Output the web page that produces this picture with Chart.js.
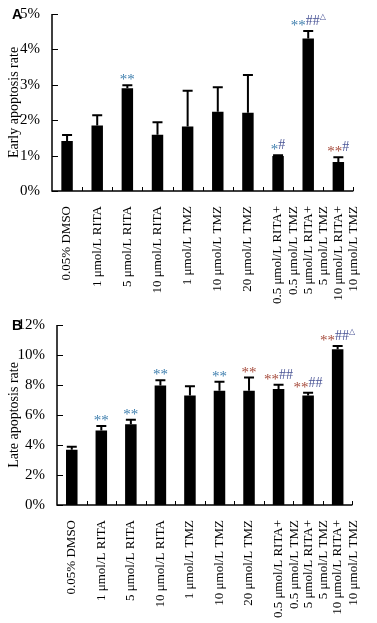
<!DOCTYPE html>
<html lang="en">
<head>
<meta charset="UTF-8">
<title>Early / late apoptosis rate</title>
<script src="https://cdn.jsdelivr.net/npm/chart.js"></script>
<style>
  body { margin: 0; background: #fff; }
  .panel { position: absolute; left: 0; }
</style>
</head>
<body>
<div class="panel" style="top:0"><canvas id="chartA" width="377" height="305"></canvas></div>
<div class="panel" style="top:310px"><canvas id="chartB" width="377" height="313"></canvas></div>

<script>
// groups on the x axis
const groups = [
  '0.05% DMSO',
  '1 μmol/L RITA',
  '5 μmol/L RITA',
  '10 μmol/L RITA',
  '1 μmol/L TMZ',
  '10 μmol/L TMZ',
  '20 μmol/L TMZ',
  ['0.5 μmol/L RITA+', '0.5 μmol/L TMZ'],
  ['5 μmol/L RITA+', '5 μmol/L TMZ'],
  ['10 μmol/L RITA+', '10 μmol/L TMZ']
];

// panel A, early apoptosis (%), mean and SD
const earlyRate = [1.41, 1.85, 2.90, 1.59, 1.82, 2.24, 2.21, 0.99, 4.31, 0.82];
const earlySD   = [0.17, 0.29, 0.09, 0.35, 1.01, 0.69, 1.07, 0.02, 0.21, 0.13];
const earlyMarks = ['', '', '**', '', '', '', '', '*#', '**##△', '**#'];
const earlyStarColor = ['b', 'b', 'b', 'b', 'b', 'b', 'b', 'b', 'b', 'r'];
const earlyTicks = [0, 1, 2, 3, 4, 5];

// panel B, late apoptosis (%), mean and SD
const lateRate = [3.68, 4.97, 5.39, 7.96, 7.30, 7.61, 7.61, 7.74, 7.30, 10.38];
const lateSD   = [0.20, 0.29, 0.29, 0.36, 0.62, 0.60, 0.89, 0.27, 0.18, 0.22];
const lateMarks = ['', '**', '**', '**', '', '**', '**', '**##', '**##', '**##△'];
const lateStarColor = ['b', 'b', 'b', 'b', 'b', 'b', 'r', 'r', 'r', 'r'];
const lateTicks = [0, 2, 4, 6, 8, 10, 12];

const COLORS = { b: '#3f7fae', r: '#a64b3c', hash: '#4a5596' };
const SERIF = '"Liberation Serif", "DejaVu Serif", serif';

// error bars, significance marks, hand drawn axes with inner ticks
const decorPlugin = {
  id: 'decor',
  afterDatasetsDraw(chart) {
    const cfg = chart.options.plugins.decor;
    const ctx = chart.ctx;
    const ys = chart.scales.y;
    const area = chart.chartArea;
    const meta = chart.getDatasetMeta(0);
    const values = chart.data.datasets[0].data;
    ctx.save();

    // axes
    ctx.strokeStyle = '#000';
    ctx.lineWidth = 1.5;
    ctx.beginPath();
    ctx.moveTo(area.left, area.top);
    ctx.lineTo(area.left, area.bottom);
    ctx.lineTo(area.right, area.bottom);
    ctx.stroke();
    ctx.lineWidth = 1;
    ctx.beginPath();
    cfg.ticks.forEach(t => {
      const y = Math.round(ys.getPixelForValue(t)) + 0.5;
      ctx.moveTo(area.left, y);
      ctx.lineTo(area.left + 6, y);
    });
    const step = (area.right - area.left) / values.length;
    for (let k = 1; k <= values.length; k++) {
      const x = Math.round(area.left + step * k) + 0.5;
      ctx.moveTo(x, area.bottom);
      ctx.lineTo(x, area.bottom - 4);
    }
    ctx.stroke();

    // error bars
    ctx.lineWidth = 2;
    meta.data.forEach((bar, i) => {
      const yTop = ys.getPixelForValue(values[i] + cfg.sd[i]);
      ctx.beginPath();
      ctx.moveTo(bar.x, bar.y);
      ctx.lineTo(bar.x, yTop);
      ctx.moveTo(bar.x - 5, yTop);
      ctx.lineTo(bar.x + 5, yTop);
      ctx.stroke();

      // marks above
      const txt = cfg.marks[i];
      if (!txt) return;
      const parts = [];
      for (const ch of txt) {
        if (ch === '*') parts.push({ s: ch, c: COLORS[cfg.starColor[i]], f: '15px ' + SERIF, dy: 5 });
        else if (ch === '#') parts.push({ s: ch, c: COLORS.hash, f: '14px ' + SERIF, dy: 0 });
        else parts.push({ s: ch, c: COLORS.hash, f: '8px "DejaVu Sans", sans-serif', dy: -6 });
      }
      let w = 0;
      parts.forEach(p => { ctx.font = p.f; p.w = ctx.measureText(p.s).width; w += p.w; });
      let x = bar.x - w / 2;
      const base = yTop - 6;
      ctx.textBaseline = 'alphabetic';
      ctx.textAlign = 'left';
      parts.forEach(p => {
        ctx.font = p.f;
        ctx.fillStyle = p.c;
        ctx.fillText(p.s, x, base + p.dy);
        x += p.w;
      });
    });

    // panel letter
    ctx.fillStyle = '#000';
    ctx.font = 'bold 14px "Liberation Sans", Arial, sans-serif';
    ctx.textBaseline = 'middle';
    ctx.textAlign = 'left';
    ctx.fillText(cfg.letter, 12, area.top + 1);
    ctx.restore();
  }
};

function makeChart(id, opt) {
  const canvas = document.getElementById(id);
  return new Chart(canvas, {
    type: 'bar',
    data: {
      labels: groups,
      datasets: [{
        data: opt.values,
        backgroundColor: '#000',
        borderWidth: 0,
        barPercentage: opt.barPct,
        categoryPercentage: 1
      }]
    },
    options: {
      responsive: false,
      animation: false,
      layout: { padding: { top: opt.top, right: opt.right, left: 0, bottom: 0 } },
      plugins: {
        legend: { display: false },
        tooltip: { enabled: false },
        decor: { sd: opt.sd, marks: opt.marks, starColor: opt.starColor, ticks: opt.ticks, letter: opt.letter }
      },
      scales: {
        x: {
          grid: { display: false },
          border: { display: false },
          ticks: {
            color: '#000',
            font: { family: SERIF, size: 13 },
            maxRotation: 90,
            minRotation: 90,
            padding: 7,
            autoSkip: false
          },
          afterFit: s => { s.height = opt.xHeight; }
        },
        y: {
          min: 0,
          max: opt.ticks[opt.ticks.length - 1],
          grid: { display: false },
          border: { display: false },
          ticks: {
            stepSize: opt.ticks[1] - opt.ticks[0],
            color: '#000',
            font: { family: SERIF, size: 15 },
            padding: 4,
            callback: v => v + '%'
          },
          title: {
            display: true,
            text: opt.title,
            color: '#000',
            font: { family: SERIF, size: 14 },
            padding: { top: 6, bottom: 0 }
          },
          afterFit: s => { s.width = opt.yWidth; }
        }
      }
    },
    plugins: [decorPlugin]
  });
}

makeChart('chartA', {
  values: earlyRate, sd: earlySD, marks: earlyMarks, starColor: earlyStarColor,
  ticks: earlyTicks, title: 'Early apoptosis rate', letter: 'A',
  top: 14, right: 9, yWidth: 52, xHeight: 114, barPct: 0.38
});

makeChart('chartB', {
  values: lateRate, sd: lateSD, marks: lateMarks, starColor: lateStarColor,
  ticks: lateTicks, title: 'Late apoptosis rate', letter: 'B',
  top: 15, right: 23, yWidth: 57, xHeight: 118, barPct: 0.39
});
</script>
</body>
</html>
